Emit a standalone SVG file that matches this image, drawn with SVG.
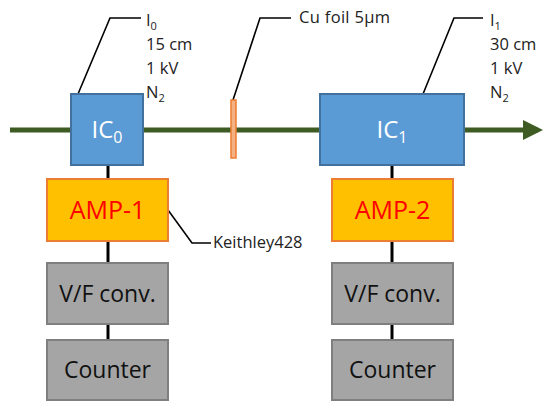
<svg xmlns="http://www.w3.org/2000/svg" width="547" height="401" viewBox="0 0 547 401">
<defs>
<style>
.ic{fill:#5B9BD5;stroke:#41719C;stroke-width:2}
.amp{fill:#FFC000;stroke:#ED7D31;stroke-width:2}
.gray{fill:#A5A5A5;stroke:#7F7F7F;stroke-width:2}
.lead{fill:none;stroke:#000;stroke-width:1.6}
.wire{stroke:#000;stroke-width:3}
.t{font-family:"Open Sans","Noto Sans",sans-serif;}
.note{font-family:"Open Sans","Noto Sans",sans-serif;font-size:16.5px;fill:#222}
</style>
<marker id="ah" markerWidth="4" markerHeight="4" refX="3" refY="2" orient="auto" markerUnits="strokeWidth">
<path d="M0,0 L4,2 L0,4 z" fill="#3D5B22"/>
</marker>
</defs>
<g id="connectors">
<line x1="10" y1="130" x2="538" y2="130" stroke="#3D5B22" stroke-width="5" marker-end="url(#ah)"/>
<line class="wire" x1="108" y1="165" x2="108" y2="340"/>
<line class="wire" x1="392" y1="165" x2="392" y2="340"/>
<polyline class="lead" points="78,94 110,18 141,18"/>
<polyline class="lead" points="233,100 260,18 291,18"/>
<polyline class="lead" points="423,94 454,18 483,18"/>
<polyline class="lead" points="168,210 192,243 211,243"/>
</g>
<g id="ic0">
<rect class="ic" x="71" y="94" width="72" height="71"/>
<text class="t" x="107" y="138" font-size="24" fill="#fff" text-anchor="middle">IC<tspan font-size="16" dy="5">0</tspan></text>
</g>
<g id="foil">
<rect x="231" y="100" width="5" height="58" fill="#F4B183" stroke="#ED7D31" stroke-width="1.5"/>
</g>
<g id="ic1">
<rect class="ic" x="320" y="94" width="144" height="71"/>
<text class="t" x="392" y="138" font-size="24" fill="#fff" text-anchor="middle">IC<tspan font-size="16" dy="5">1</tspan></text>
</g>
<g id="amp1">
<rect class="amp" x="47" y="179" width="121" height="62"/>
<text class="t" x="107.5" y="219" font-size="25" fill="#FF0000" text-anchor="middle">AMP-1</text>
</g>
<g id="amp2">
<rect class="amp" x="332" y="179" width="121" height="62"/>
<text class="t" x="392.5" y="219" font-size="25" fill="#FF0000" text-anchor="middle">AMP-2</text>
</g>
<g id="vf1">
<rect class="gray" x="47" y="263" width="121" height="61"/>
<text class="t" x="107.5" y="302" font-size="23" fill="#111" text-anchor="middle">V/F conv.</text>
</g>
<g id="vf2">
<rect class="gray" x="332" y="263" width="121" height="61"/>
<text class="t" x="392.5" y="302" font-size="23" fill="#111" text-anchor="middle">V/F conv.</text>
</g>
<g id="cnt1">
<rect class="gray" x="47" y="340" width="121" height="60"/>
<text class="t" x="107.5" y="378" font-size="23" fill="#111" text-anchor="middle">Counter</text>
</g>
<g id="cnt2">
<rect class="gray" x="332" y="340" width="121" height="60"/>
<text class="t" x="392.5" y="378" font-size="23" fill="#111" text-anchor="middle">Counter</text>
</g>
<g id="labels">
<text class="note" x="146" y="26">I<tspan font-size="11" dy="4">0</tspan></text>
<text class="note" x="146" y="50">15 cm</text>
<text class="note" x="146" y="74">1 kV</text>
<text class="note" x="146" y="98">N<tspan font-size="11" dy="4">2</tspan></text>
<text class="note" x="299" y="23" textLength="91">Cu foil 5μm</text>
<text class="note" x="490" y="26">I<tspan font-size="11" dy="4">1</tspan></text>
<text class="note" x="490" y="50">30 cm</text>
<text class="note" x="490" y="74">1 kV</text>
<text class="note" x="490" y="98">N<tspan font-size="11" dy="4">2</tspan></text>
<text class="note" x="213" y="248" font-size="16">Keithley428</text>
</g>
</svg>
